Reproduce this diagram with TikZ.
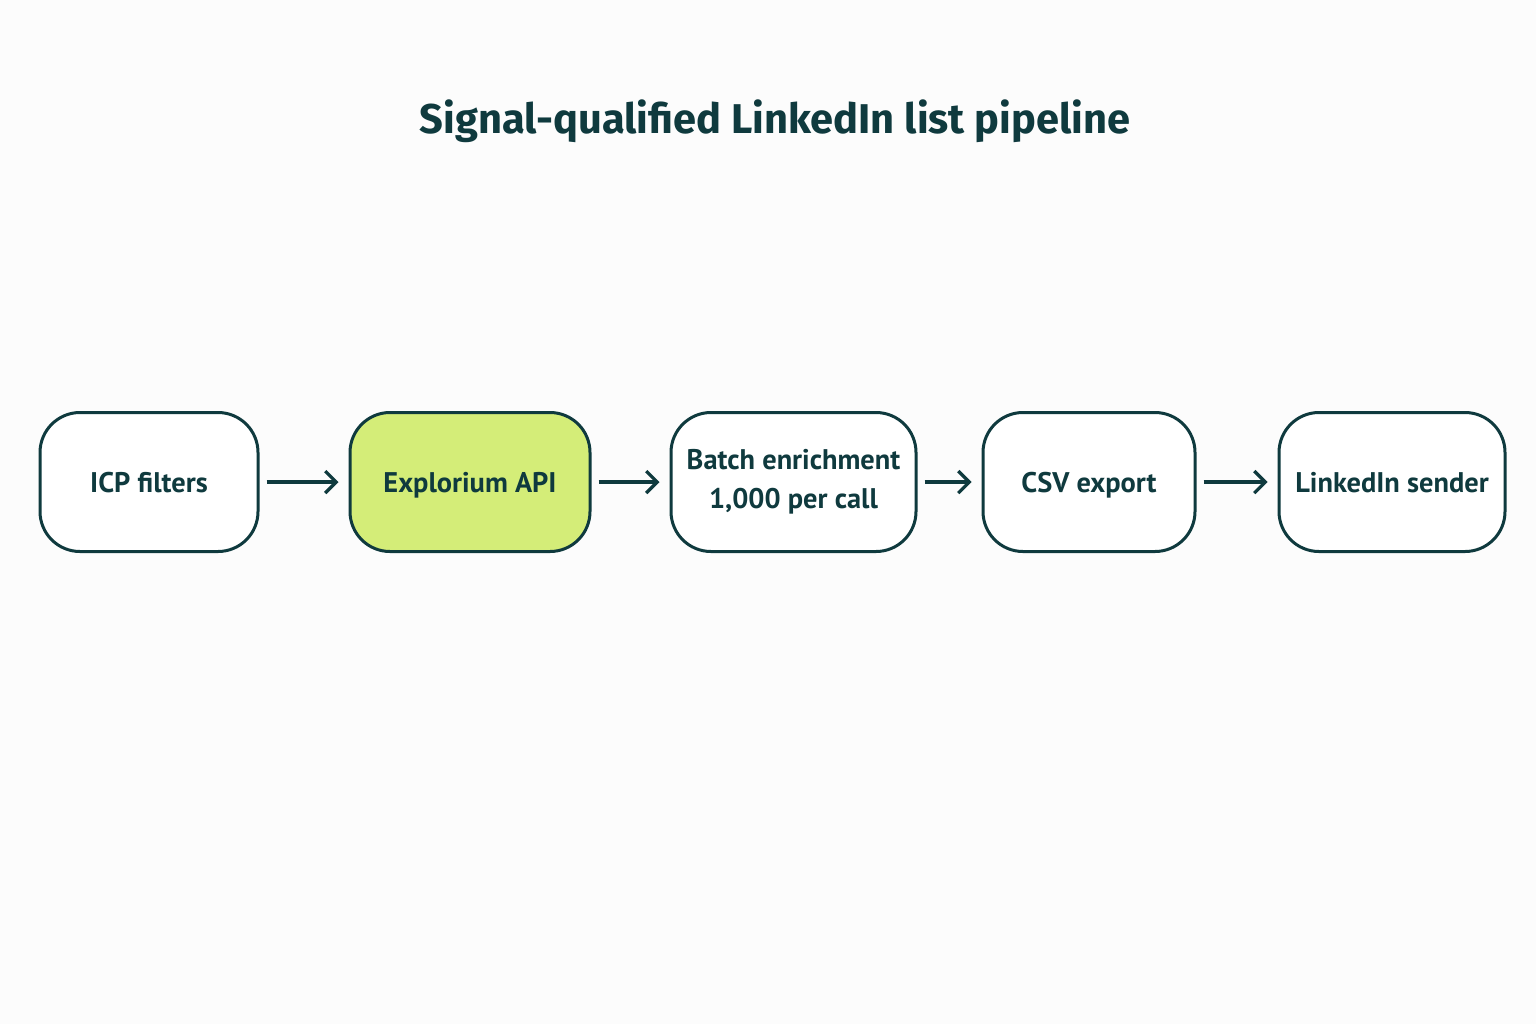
\documentclass[tikz,border=0pt]{standalone}
\usepackage{fontspec}
\setmainfont{Fira Sans}
\newfontfamily\boxfont{PT Sans}
\usetikzlibrary{arrows.meta}
\definecolor{ink}{HTML}{0F3A3E}
\definecolor{lime}{HTML}{D4ED78}
\definecolor{bg}{HTML}{FCFCFC}
\begin{document}
\begin{tikzpicture}[x=0.5pt,y=-0.5pt,
  stage/.style={draw=ink, line width=1.5pt, rounded corners=20pt, fill=white,
    minimum height=69.5pt, align=center, text=ink,
    font=\boxfont\bfseries\fontsize{14.2pt}{19.5pt}\selectfont},
  oneline/.style={text height=10pt, text depth=0pt},
  flow/.style={draw=ink, line width=1.6pt, -{Straight Barb[length=5.5pt,width=11pt,line width=1.6pt]},
    shorten <=3.5pt, shorten >=5pt}]
\fill[bg] (0,0) rectangle (1536,1024);
\useasboundingbox (0,0) rectangle (1536,1024);
\node[text=ink, font=\bfseries\fontsize{20.8pt}{24pt}\selectfont] (title) at (775,121) {Signal-qualified LinkedIn list pipeline};
\node[stage, oneline, minimum width=109pt] (icp) at (149,482) {ICP filters};
\node[stage, oneline, minimum width=120pt, fill=lime] (api) at (470,482) {Explorium API};
\node[stage, minimum width=122.5pt] (batch) at (793.5,482) {Batch enrichment\\1,000 per call};
\node[stage, oneline, minimum width=106pt] (csv) at (1089,482) {CSV export};
\node[stage, oneline, minimum width=113pt] (send) at (1392,482) {LinkedIn sender};
\draw[flow] (icp) -- (api);
\draw[flow] (api) -- (batch);
\draw[flow] (batch) -- (csv);
\draw[flow] (csv) -- (send);
\end{tikzpicture}
\end{document}
